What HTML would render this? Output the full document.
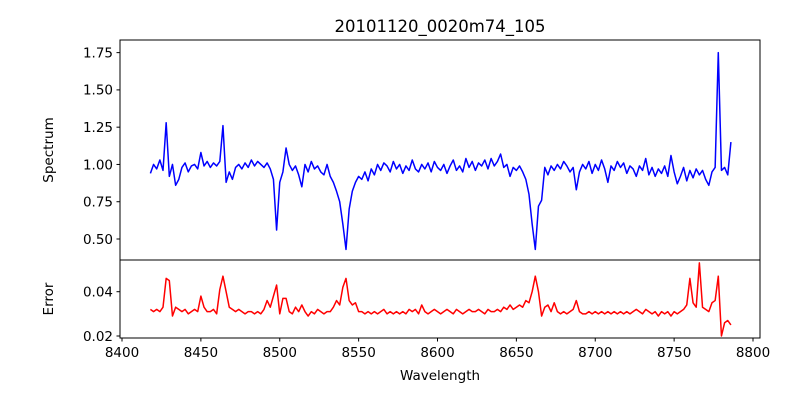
<!DOCTYPE html>
<html><head><meta charset="utf-8"><style>
body{margin:0;background:#fff;}
svg text{font-family:"DejaVu Sans","Liberation Sans",sans-serif;fill:#000;}
</style></head><body>
<svg id="chart" width="800" height="400" xmlns="http://www.w3.org/2000/svg">
<rect width="800" height="400" fill="#fff"/>
<text x="440" y="32" font-size="16.5" text-anchor="middle">20101120_0020m74_105</text>
<g id="topPanel"></g>
<g id="botPanel"></g>
<text transform="translate(53,150) rotate(-90)" font-size="13.5" text-anchor="middle">Spectrum</text>
<text transform="translate(53,299) rotate(-90)" font-size="13.5" text-anchor="middle">Error</text>
<text x="440" y="380" font-size="13.5" text-anchor="middle">Wavelength</text>
</svg>
<script>
const startWave = 8418;
const stepWave = 2;
const spectrumValues = [
0.94,1.00,0.97,1.03,0.96,1.28,0.92,1.00,0.86,0.90,
0.98,1.01,0.95,0.99,1.00,0.97,1.08,0.99,1.02,0.98,
1.01,0.99,1.02,1.26,0.88,0.95,0.90,0.98,1.00,0.97,
1.01,0.98,1.03,0.99,1.02,1.00,0.98,1.01,0.97,0.90,
0.56,0.88,0.95,1.11,1.00,0.96,0.99,0.93,0.85,1.00,
0.95,1.02,0.97,0.99,0.95,0.93,1.00,0.92,0.88,0.82,
0.75,0.60,0.43,0.70,0.82,0.88,0.92,0.90,0.95,0.89,
0.97,0.93,1.00,0.96,1.01,0.99,0.95,1.02,0.97,1.00,
0.94,0.99,0.96,1.03,0.97,0.95,1.00,0.97,1.01,0.95,
1.02,0.98,0.96,1.00,0.94,0.99,1.03,0.96,0.99,0.95,
1.04,0.98,1.02,0.96,1.01,0.99,1.03,0.97,1.04,0.99,
1.02,1.07,0.98,1.00,0.92,0.98,0.96,0.99,0.95,0.90,
0.80,0.60,0.43,0.72,0.76,0.98,0.93,0.99,0.96,1.00,
0.97,1.02,0.99,0.95,0.98,0.83,0.95,1.00,0.97,1.02,
0.94,1.00,0.96,1.03,0.97,0.88,0.99,0.96,1.02,0.98,
1.01,0.94,0.99,0.97,0.92,0.99,0.96,1.04,0.93,0.98,
0.92,0.97,0.94,0.99,0.92,1.06,0.95,0.87,0.92,0.98,
0.89,0.96,0.91,0.97,0.93,0.96,0.90,0.86,0.95,0.98,
1.75,0.96,0.98,0.93,1.15];
const errorValues = [
0.032,0.031,0.032,0.031,0.033,0.046,0.045,0.029,0.033,0.032,
0.031,0.032,0.030,0.031,0.032,0.031,0.038,0.033,0.031,0.031,
0.032,0.030,0.041,0.047,0.040,0.033,0.032,0.031,0.032,0.031,
0.030,0.031,0.031,0.030,0.031,0.030,0.032,0.036,0.033,0.038,
0.043,0.030,0.037,0.037,0.031,0.030,0.033,0.031,0.034,0.031,
0.029,0.031,0.030,0.032,0.031,0.030,0.031,0.031,0.033,0.036,
0.034,0.042,0.046,0.036,0.034,0.035,0.031,0.031,0.030,0.031,
0.030,0.031,0.030,0.031,0.032,0.030,0.031,0.030,0.031,0.030,
0.031,0.030,0.032,0.031,0.032,0.030,0.034,0.031,0.030,0.031,
0.032,0.031,0.030,0.031,0.032,0.031,0.030,0.032,0.031,0.030,
0.031,0.032,0.031,0.031,0.032,0.031,0.030,0.032,0.031,0.031,
0.032,0.031,0.033,0.032,0.034,0.032,0.033,0.034,0.033,0.036,
0.035,0.040,0.047,0.040,0.029,0.033,0.034,0.031,0.035,0.031,
0.030,0.031,0.030,0.031,0.032,0.036,0.031,0.030,0.030,0.031,
0.030,0.031,0.030,0.031,0.030,0.031,0.030,0.031,0.030,0.031,
0.030,0.031,0.030,0.031,0.032,0.031,0.030,0.032,0.031,0.030,
0.031,0.029,0.031,0.030,0.031,0.029,0.031,0.030,0.031,0.032,
0.034,0.046,0.035,0.033,0.053,0.033,0.032,0.031,0.035,0.036,
0.047,0.020,0.026,0.027,0.025];
const xTicks = [8400,8450,8500,8550,8600,8650,8700,8750,8800];
const specTicks = [0.50,0.75,1.00,1.25,1.50,1.75];
const errTicks = [0.02,0.04];

const NS = "http://www.w3.org/2000/svg";
const L = 120, R = 760, T1 = 40, B1 = 260, T2 = 260, B2 = 338;
const xScale = w => 122 + (w - 8400) * 1.5775;
const ySpec = v => 239 - (v - 0.5) * 149.1;
const yErr = v => 291.7 - (v - 0.04) * 2215;
function mk(tag, attrs, parent) { const e = document.createElementNS(NS, tag); for (const k in attrs) e.setAttribute(k, attrs[k]); parent.appendChild(e); return e; }
const topG = document.getElementById('topPanel');
const botG = document.getElementById('botPanel');

function series(vals, ys, color, parent, name) {
  let d = '';
  vals.forEach((v, i) => { const w = startWave + i * stepWave; d += (i ? 'L' : 'M') + xScale(w).toFixed(2) + ',' + ys(v).toFixed(2); });
  const p = mk('path', {d: d, fill: 'none', stroke: color, 'stroke-width': 1.5, 'stroke-linejoin': 'round'}, parent);
  
  
}
series(spectrumValues, ySpec, '#0000ff', topG, 'spectrum-line');
series(errorValues, yErr, '#ff0000', botG, 'error-line');

const f1 = mk('rect', {x: L, y: T1, width: R - L, height: B1 - T1, fill: 'none', stroke: '#000', 'stroke-width': 1}, topG);


const f2 = mk('rect', {x: L, y: T2, width: R - L, height: B2 - T2, fill: 'none', stroke: '#000', 'stroke-width': 1}, botG);



specTicks.forEach(t => {
  const y = ySpec(t);
  mk('line', {x1: L - 3.5, x2: L, y1: y, y2: y, stroke: '#000'}, topG);
  const tx = mk('text', {x: L - 7, y: y + 4.8, 'font-size': 13.5, 'text-anchor': 'end'}, topG);
  tx.textContent = t.toFixed(2);
  
  
});
errTicks.forEach(t => {
  const y = yErr(t);
  mk('line', {x1: L - 3.5, x2: L, y1: y, y2: y, stroke: '#000'}, botG);
  const tx = mk('text', {x: L - 7, y: y + 4.8, 'font-size': 13.5, 'text-anchor': 'end'}, botG);
  tx.textContent = t.toFixed(2);
  
  
});
xTicks.forEach(t => {
  const x = xScale(t);
  mk('line', {x1: x, x2: x, y1: B2, y2: B2 + 3.5, stroke: '#000'}, botG);
  const tx = mk('text', {x: x, y: B2 + 19, 'font-size': 13.5, 'text-anchor': 'middle'}, botG);
  tx.textContent = t;
  
  
});
</script>
</body></html>
